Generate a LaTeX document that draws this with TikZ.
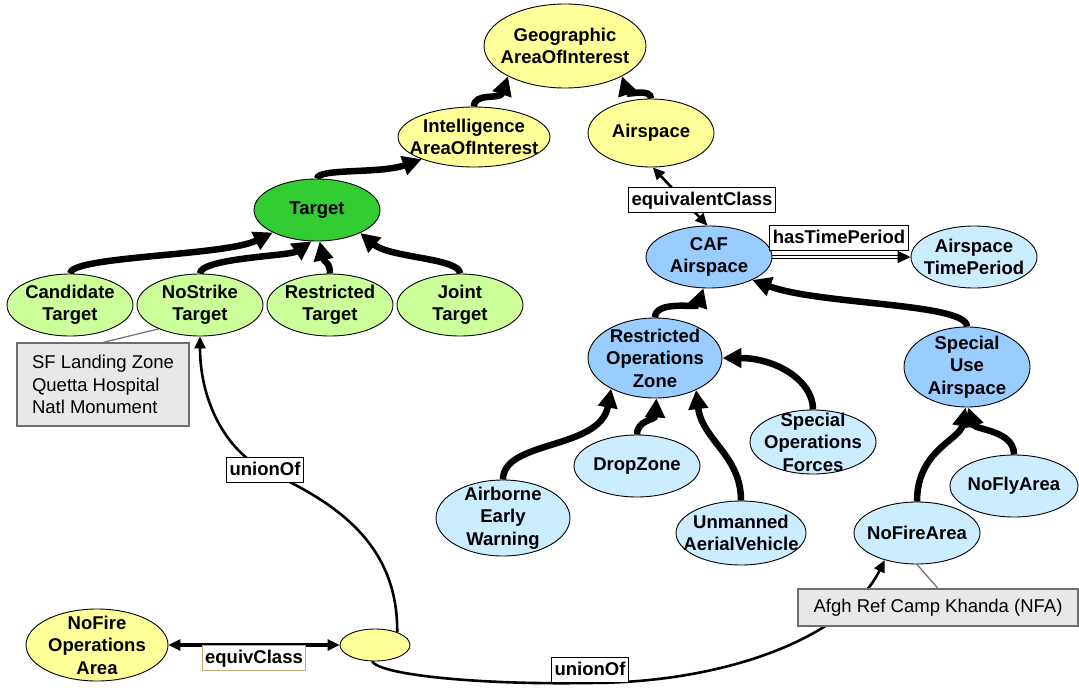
\documentclass[tikz,border=0pt]{standalone}
\usepackage{fontspec}
\setmainfont{Liberation Sans}
\usetikzlibrary{shapes.geometric,arrows.meta}
\definecolor{yel}{RGB}{255,255,153}
\definecolor{tgtgreen}{RGB}{51,204,51}
\definecolor{ltgreen}{RGB}{204,255,153}
\definecolor{midblue}{RGB}{153,204,255}
\definecolor{ltblue}{RGB}{204,236,255}
\definecolor{notefill}{RGB}{232,232,232}
\definecolor{noteline}{RGB}{110,110,110}
\definecolor{tanline}{RGB}{190,170,120}
\pgfdeclarelayer{bg}
\pgfsetlayers{bg,main}

\begin{document}
\begin{tikzpicture}[x=1pt,y=-1pt,
  tx/.style={align=center,font=\fontsize{18.5}{22.5}\selectfont\bfseries},
  cls/.style n args={3}{ellipse,draw=black,line width=0.9pt,inner sep=0pt,
    minimum width=#1pt,minimum height=#2pt,fill=#3},
  sub/.style={line width=6.5pt,-{Triangle[length=19pt,width=19pt]}},
  rel/.style={line width=2.6pt,-{Triangle[length=12pt,width=11pt]}},
  dbl/.style={line width=1.1pt,double=white,double distance=2.4pt,
    -{Triangle[length=13pt,width=12pt]}},
  elab/.style={draw=black,line width=0.9pt,fill=white,
    font=\fontsize{18.5}{22.5}\selectfont\bfseries,
    text height=14pt,text depth=4pt,inner xsep=3pt,inner ysep=3.5pt},
  note/.style={draw=noteline,line width=1.2pt,fill=notefill,align=left,
    font=\fontsize{18.5}{22.5}\selectfont,inner sep=0pt},
  callout/.style={draw=noteline,line width=1.2pt}
]
\useasboundingbox (0,0) rectangle (1079,690);

% ---- class hierarchy: areas of interest and targets
\node[cls={162}{84}{yel},label={[tx]center:Geographic\\AreaOfInterest}] (geo) at (565,46) {};
\node[cls={152}{60}{yel},label={[tx]center:Intelligence\\AreaOfInterest}] (intel) at (474,137) {};
\node[cls={126}{68}{yel},label={[tx]center:Airspace}] (air) at (651,133) {};
\node[cls={126}{62}{tgtgreen},label={[tx]center:Target}] (target) at (317,210) {};
\node[cls={126}{62}{ltgreen},label={[tx]center:Candidate\\Target}] (cand) at (70,305) {};
\node[cls={126}{62}{ltgreen},label={[tx]center:NoStrike\\Target}] (ns) at (200,305) {};
\node[cls={126}{62}{ltgreen},label={[tx]center:Restricted\\Target}] (rt) at (330,305) {};
\node[cls={126}{62}{ltgreen},label={[tx]center:Joint\\Target}] (joint) at (460,305) {};

% ---- airspace classes
\node[cls={126}{62}{midblue},label={[tx]center:CAF\\Airspace}] (caf) at (709,257) {};
\node[cls={126}{62}{ltblue},label={[tx]center:Airspace\\TimePeriod}] (atp) at (974,257) {};
\node[cls={134}{80}{midblue},label={[tx]center:Restricted\\Operations\\Zone}] (roz) at (655,358) {};
\node[cls={126}{80}{midblue},label={[tx]center:Special\\Use\\Airspace}] (sua) at (967,367) {};
\node[cls={126}{64}{ltblue},label={[tx]center:Special\\Operations\\Forces}] (sof) at (813,442) {};
\node[cls={126}{62}{ltblue},label={[tx]center:DropZone}] (dz) at (637,466) {};
\node[cls={134}{76}{ltblue},label={[tx]center:Airborne\\Early\\Warning}] (aew) at (503,518) {};
\node[cls={130}{64}{ltblue},label={[tx]center:Unmanned\\AerialVehicle}] (uav) at (741,533) {};
\node[cls={128}{62}{ltblue},label={[tx]center:NoFlyArea}] (nofly) at (1014,486) {};
\node[cls={126}{62}{ltblue},label={[tx]center:NoFireArea}] (nfa) at (917,533) {};

% ---- no-fire operations area and its anonymous union class
\node[cls={142}{72}{yel},label={[tx]center:NoFire\\Operations\\Area}] (nfoa) at (97,645) {};
\node[cls={70}{32}{yel}] (anon) at (375,645) {};

% ---- property labels
\node[elab] (eqc) at (702,200) {equivalentClass};
\node[elab] (htp) at (839,238) {hasTimePeriod};
\node[elab] (u1) at (265,470) {unionOf};
\node[elab] (u2) at (590,670) {unionOf};
\node[elab,draw=tanline] (eqv) at (254,658) {equivClass};

% ---- instance notes
\node[note,minimum width=172pt,minimum height=83pt] (sfbox) at (103,384.5)
  {SF Landing Zone\\Quetta Hospital\\Natl Monument};
\node[note,minimum width=280pt,minimum height=37pt] (nfabox) at (938,607.5)
  {Afgh Ref Camp Khanda (NFA)};

\begin{pgfonlayer}{bg}
  % subclass links
  \draw[sub] (intel.north) .. controls (474,92) and (500,100) .. (geo.-152);
  \draw[sub] (air.north) .. controls (651,88) and (628,95) .. (geo.-28);
  \draw[sub] (target.north) .. controls (318,168) and (380,174) .. (intel.-157);
  \draw[sub] (cand.north) .. controls (70,256) and (225,256) .. (target.-153);
  \draw[sub] (ns.north) .. controls (200,258) and (290,256) .. (target.-100);
  \draw[sub] (rt.north) .. controls (330,262) and (324,262) .. (target.-85);
  \draw[sub] (joint.north) .. controls (460,258) and (390,258) .. (target.-28);
  \draw[sub] (roz.north) .. controls (655,300) and (697,308) .. (caf.-100);
  \draw[sub] (sua.north) .. controls (967,303) and (820,305) .. (caf.-28);
  \draw[sub] (sof.north) .. controls (813,380) and (775,358) .. (roz.east);
  \draw[sub] (dz.north) .. controls (637,420) and (655,420) .. (roz.-88);
  \draw[sub] (aew.north) .. controls (503,440) and (600,450) .. (roz.-145);
  \draw[sub] (uav.north) .. controls (741,455) and (702,440) .. (roz.-38);
  \draw[sub] (nfa.north) .. controls (917,450) and (960,440) .. (sua.-92);
  \draw[sub] (nofly.north) .. controls (1014,430) and (975,430) .. (sua.-88);

  % properties
  \draw[rel,{Triangle[length=12pt,width=11pt]}-{Triangle[length=12pt,width=11pt]}]
    (air.-87) -- (caf.93);
  \draw[dbl] (caf.east) -- (atp.west);
  \draw[rel] (anon.30) .. controls (398,540) and (330,500) .. (u1.center)
    .. controls (225,450) and (200,400) .. (ns.south);
  \draw[rel] (anon.-100) .. controls (380,675) and (480,685) .. (u2.south)
    .. controls (720,683) and (845,640) .. (nfa.-140);
  \draw[rel,line width=3.4pt,{Triangle[length=12pt,width=11pt]}-{Triangle[length=12pt,width=11pt]}]
    (nfoa.east) -- (anon.west);

  % note callouts
  \draw[callout] (ns.-150) -- (sfbox.north);
  \draw[callout] (nfa.south) -- (nfabox.north);
\end{pgfonlayer}
\end{tikzpicture}
\end{document}
